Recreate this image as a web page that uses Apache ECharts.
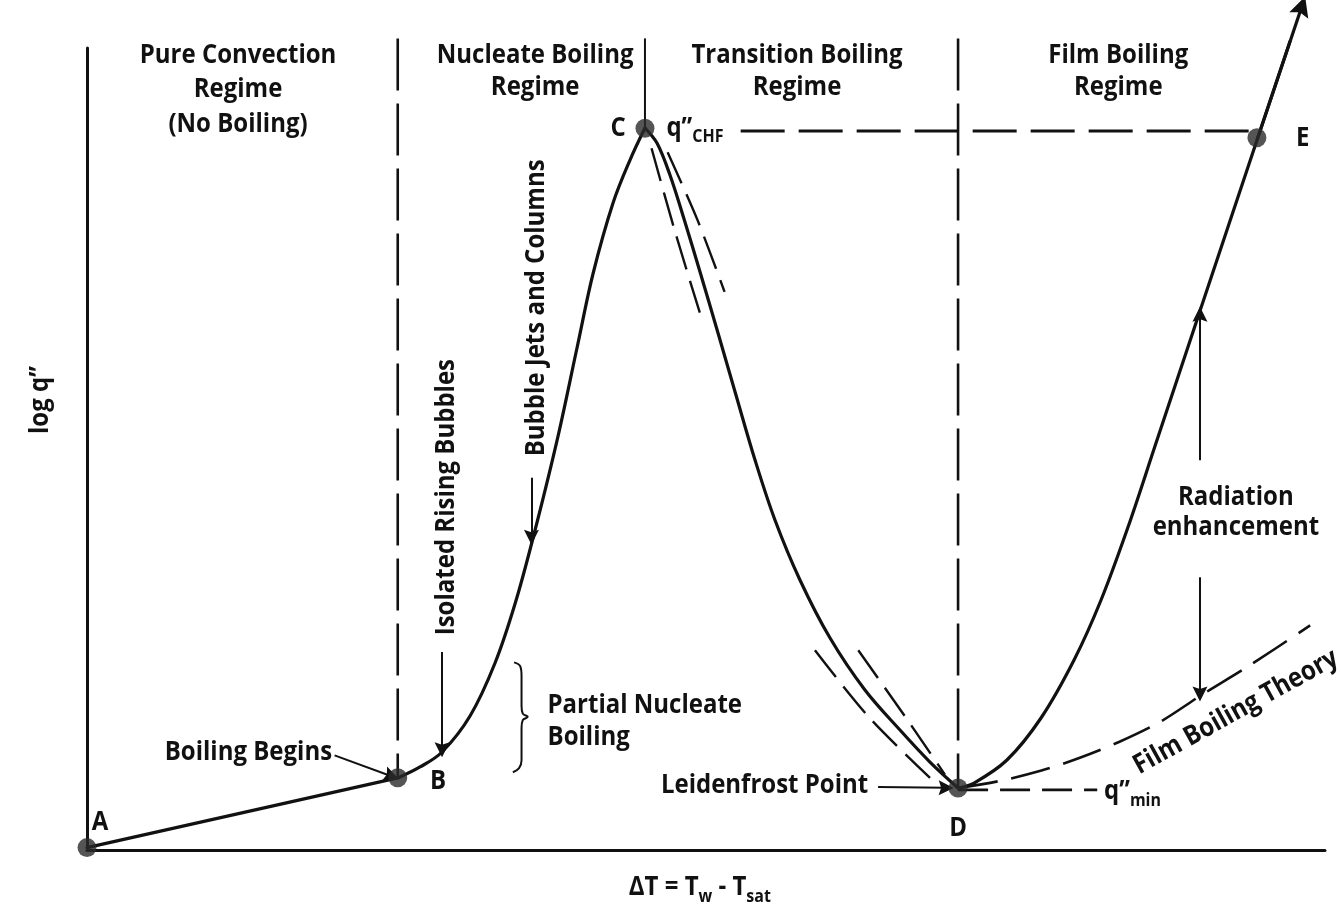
<!DOCTYPE html>
<html><head><meta charset="utf-8">
<script src="https://cdn.jsdelivr.net/npm/echarts@6/dist/echarts.min.js"></script>
<style>html,body{margin:0;padding:0;background:#fff}#c{width:1341px;height:916px}</style>
</head><body><div id="c"></div>
<script>
// ---- data (x: ΔT scale 0-100, y: log q'' scale 0-100) ----
const pointNames = ['A', 'B', 'C', 'D', 'E'];
const pointX = [0, 25.1, 45.07, 70.36, 94.5];
const pointY = [0.3, 9.0, 90.0, 7.73, 88.8];

const convectionCurve = [[0, 0.3], [25.1, 9.0]];
const nucleateCurve = [[25.12, 8.98], [26.9, 10.35], [28.68, 12.22], [30.94, 16.71], [32.96, 23.32],
  [34.57, 30.67], [36.03, 38.9], [37.96, 51.0], [39.58, 62.59], [40.87, 71.82], [42.49, 80.67],
  [43.86, 86.03], [45.07, 90.02]];
const transitionCurve = [[45.07, 90.02], [46.04, 88.15], [47.09, 84.16], [48.3, 78.3], [49.52, 72.07],
  [50.97, 64.46], [52.42, 56.73], [53.96, 48.63], [55.57, 41.15], [57.59, 33.67], [60.02, 26.43],
  [62.84, 19.95], [65.67, 14.96], [68.09, 10.97], [70.36, 7.73]];
const filmCurve = [[70.36, 7.73], [71.65, 8.35], [74.31, 11.22], [77.06, 16.46], [79.73, 23.69],
  [81.91, 31.17], [84.09, 40.27], [86.27, 50.37], [89.9, 67.21], [94.51, 88.53], [97.17, 100.8]];
const filmTheoryCurve = [[70.36, 7.73], [73.7, 8.6], [77.1, 9.9], [80.2, 11.5], [83.4, 13.5], [86.7, 16.0],
  [89.9, 19.2], [93.8, 22.9], [98.8, 28.0]];
const dashNearC1 = [[45.6, 87.5], [47.5, 77.1], [49.5, 67.0]];
const dashNearC2 = [[46.9, 87.0], [49.3, 78.6], [51.5, 69.6]];
const dashNearD1 = [[58.8, 24.9], [63.2, 16.5], [68.5, 8.4]];
const dashNearD2 = [[62.3, 24.9], [66.1, 16.6], [69.3, 9.4]];
const chfLine = [[52.8, 89.65], [94.5, 89.65]];
const qminLine = [[70.36, 7.5], [81.6, 7.5]];
const regimeBoundB = [[25.1, 101.2], [25.1, 9.0]];
const regimeBoundD = [[70.36, 101.2], [70.36, 7.73]];
const regimeBoundC = [[45.07, 101.2], [45.07, 90.0]];
const braceShape = [[34.5, 23.4], [35.0, 22.9], [35.1, 21.7], [35.1, 18.0], [35.2, 17.0], [35.6, 16.6],
  [35.2, 16.2], [35.1, 15.2], [35.1, 11.2], [34.9, 10.2], [34.4, 9.7]];
const arrowSegments = [
  [[20.0, 11.8], [24.6, 9.2]],     // Boiling Begins
  [[28.68, 24.7], [28.68, 12.5]],  // Isolated Rising Bubbles
  [[35.9, 46.4], [35.9, 39.0]],    // Bubble Jets and Columns
  [[63.9, 7.85], [69.4, 7.75]],    // Leidenfrost Point
  [[89.9, 48.6], [89.9, 66.8]],    // Radiation up
  [[89.9, 34.0], [89.9, 19.45]]    // Radiation down
];
const curveTip = [[94.51, 88.53], [98.14, 105.24]];

// ---- annotations (text, anchor in data units) ----
const annotations = [
  {t: 'Pure Convection', x: 12.2, y: 99.1}, {t: 'Regime', x: 12.2, y: 94.8}, {t: '(No Boiling)', x: 12.2, y: 90.5},
  {t: 'Nucleate Boiling', x: 36.2, y: 99.1}, {t: 'Regime', x: 36.2, y: 95.1},
  {t: 'Transition Boiling', x: 57.35, y: 99.1}, {t: 'Regime', x: 57.35, y: 95.1},
  {t: 'Film Boiling', x: 83.3, y: 99.1}, {t: 'Regime', x: 83.3, y: 95.1},
  {t: 'C', x: 42.9, y: 90.0}, {t: 'E', x: 98.2, y: 88.8}, {t: 'A', x: 1.05, y: 3.5},
  {t: 'B', x: 28.35, y: 8.6}, {t: 'D', x: 70.36, y: 2.7},
  {t: 'Boiling Begins', x: 19.8, y: 12.2, align: 'right'},
  {t: 'Partial Nucleate', x: 37.2, y: 18.1, align: 'left'}, {t: 'Boiling', x: 37.2, y: 14.1, align: 'left'},
  {t: 'Leidenfrost Point', x: 63.1, y: 8.1, align: 'right'},
  {t: 'Radiation', x: 92.8, y: 44.0}, {t: 'enhancement', x: 92.8, y: 40.3},
  {t: 'Film Boiling Theory', x: 92.8, y: 17.2, rot: 29},
  {t: 'Bubble Jets and Columns', x: 36.3, y: 67.6, rot: 90},
  {t: 'Isolated Rising Bubbles', x: 29.0, y: 44.0, rot: 90},
  {t: 'log q”', x: -3.8, y: 56.1, rot: 90},
  {rich: '{m|q”}{s|CHF}', x: 46.8, y: 90.0, align: 'left'},
  {rich: '{m|q”}{s|min}', x: 82.15, y: 7.3, align: 'left'},
  {rich: '{m|ΔT = T}{s|w}{m| - T}{s|sat}', x: 49.5, y: -4.7}
];

const INK = '#111';
const FONT = '"Open Sans", "Noto Sans", sans-serif';
const HEAD = 'path://M5,0 L10,24 L5,20 L0,24 Z';
const chart = echarts.init(document.getElementById('c'), null, {renderer: 'canvas'});

function solid(data, smooth) {
  return {type: 'line', data, smooth: smooth || false, showSymbol: false, symbol: 'none', clip: false,
    silent: true, lineStyle: {color: INK, width: 3.2, cap: 'round', join: 'round'}, z: 3};
}
function dashed(data, dash, width, smooth) {
  return {type: 'line', data, smooth: smooth || false, showSymbol: false, symbol: 'none', clip: false,
    silent: true, lineStyle: {color: INK, width: width || 2.6, type: dash}, z: 2};
}
function arrows(segs, size, width) {
  return {type: 'lines', coordinateSystem: 'cartesian2d', silent: true, clip: false, z: 4,
    symbol: ['none', HEAD], symbolSize: size, symbolKeepAspect: true,
    lineStyle: {color: INK, width: width, opacity: 1, curveness: 0},
    data: segs.map(c => ({coords: c}))};
}

const series = [
  solid(convectionCurve, false),
  solid(nucleateCurve, 0.35),
  solid(transitionCurve, 0.35),
  solid(filmCurve, 0.35),
  dashed(filmTheoryCurve, [40, 14], 2.6, 0.3),
  dashed(dashNearC1, [34, 12], 2.4, 0.3),
  dashed(dashNearC2, [34, 12], 2.4, 0.3),
  dashed(dashNearD1, [34, 12], 2.4, 0.3),
  dashed(dashNearD2, [34, 12], 2.4, 0.3),
  dashed(chfLine, [44, 14], 2.8),
  dashed(qminLine, [30, 12], 2.8),
  dashed(regimeBoundB, [52, 13], 2.6),
  dashed(regimeBoundD, [52, 13], 2.6),
  Object.assign(solid(regimeBoundC, false), {lineStyle: {color: INK, width: 2}}),
  Object.assign(solid(braceShape, 0.4), {lineStyle: {color: INK, width: 2}}),
  arrows(arrowSegments, 15, 2),
  arrows([curveTip], 20, 3.2),
  {type: 'scatter', silent: true, clip: false, z: 5, symbolSize: 19,
    itemStyle: {color: '#2b2b2b'},
    data: pointNames.map((n, i) => ({name: n, value: [pointX[i], pointY[i]]}))}
];

chart.setOption({
  animation: false,
  backgroundColor: '#fff',
  grid: {left: 87, right: 16, top: 48, bottom: 66},
  xAxis: {type: 'value', min: 0, max: 100, axisLine: {show: true, onZero: false, lineStyle: {color: INK, width: 3}},
    axisTick: {show: false}, axisLabel: {show: false}, splitLine: {show: false}},
  yAxis: {type: 'value', min: 0, max: 100, axisLine: {show: true, onZero: false, lineStyle: {color: INK, width: 3}},
    axisTick: {show: false}, axisLabel: {show: false}, splitLine: {show: false}},
  series
});

const FS = 24, STRETCH = 1.13;
const graphics = annotations.map(a => {
  const p = chart.convertToPixel({gridIndex: 0}, [a.x, a.y]);
  const style = {fill: INK, align: a.align || 'center', verticalAlign: 'middle',
    fontFamily: FONT, fontSize: FS, fontWeight: 'bold'};
  if (a.rich) {
    style.text = a.rich;
    style.rich = {
      m: {fontFamily: FONT, fontSize: FS, fontWeight: 'bold', fill: INK},
      s: {fontFamily: FONT, fontSize: 16, fontWeight: 'bold', fill: INK, padding: [16, 0, 0, 0]}
    };
  } else {
    style.text = a.t;
  }
  return {type: 'text', x: p[0], y: p[1], scaleY: STRETCH,
    rotation: (a.rot || 0) * Math.PI / 180, style, z: 10, silent: true};
});
chart.setOption({graphic: graphics});
</script></body></html>
